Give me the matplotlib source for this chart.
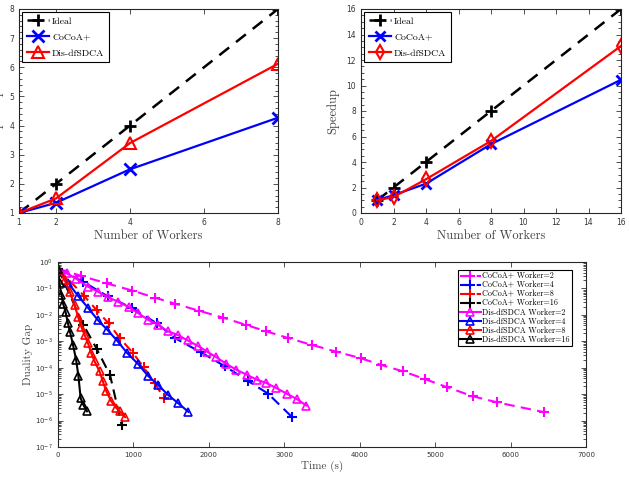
import numpy as np
import matplotlib
matplotlib.use("Agg")
import matplotlib.pyplot as plt
from matplotlib.ticker import AutoMinorLocator, LogLocator, NullFormatter

# ---------------- data ----------------
workers_a = [1, 2, 4, 8]
ideal_a = [1, 2, 4, 8]
cocoa_a = [1.0, 1.35, 2.5, 4.27]
dis_a = [1.0, 1.5, 3.4, 6.12]

workers_b = [1, 2, 4, 8, 16]
ideal_b = [1, 2, 4, 8, 16]
cocoa_b = [1.0, 1.4, 2.3, 5.4, 10.45]
dis_b = [1.0, 1.25, 2.65, 5.65, 13.1]

# bottom panel: time (s) and log10(duality gap)
t_cocoa2 = [0, 300, 648, 984, 1284, 1557, 1875, 2183, 2492, 2757, 3055, 3370, 3683,
            4013, 4278, 4577, 4864, 5151, 5499, 5820, 6442]
g_cocoa2 = [-0.25, -0.52, -0.81, -1.08, -1.35, -1.58, -1.85, -2.10, -2.38, -2.62, -2.88,
            -3.14, -3.39, -3.64, -3.89, -4.14, -4.43, -4.73, -5.08, -5.31, -5.68]
t_cocoa4 = [0, 330, 660, 985, 1310, 1550, 1890, 2210, 2513, 2785, 3100]
g_cocoa4 = [-0.25, -0.74, -1.30, -1.75, -2.32, -2.88, -3.41, -3.94, -4.49, -4.98, -5.86]
t_cocoa8 = [0, 345, 512, 670, 820, 990, 1135, 1280, 1405]
g_cocoa8 = [-0.25, -1.28, -1.82, -2.32, -2.88, -3.43, -3.98, -4.58, -5.14]
t_cocoa16 = [0, 335, 512, 690, 842]
g_cocoa16 = [-0.25, -2.37, -3.28, -4.28, -6.15]

t_dis2 = [0, 115, 245, 395, 530, 660, 800, 945, 1060, 1190, 1322, 1455, 1588, 1720, 1852,
          1975, 2098, 2228, 2366, 2500, 2632, 2757, 2895, 3030, 3162, 3294]
g_dis2 = [-0.25, -0.43, -0.64, -0.93, -1.12, -1.34, -1.50, -1.72, -1.93, -2.18, -2.37, -2.62,
          -2.76, -2.97, -3.17, -3.39, -3.60, -3.85, -4.08, -4.26, -4.45, -4.57, -4.77, -4.98,
          -5.18, -5.43]
t_dis4 = [0, 132, 265, 397, 529, 655, 785, 915, 1059, 1191, 1323, 1455, 1588, 1729]
g_dis4 = [-0.25, -0.78, -1.28, -1.73, -2.20, -2.57, -2.98, -3.44, -3.85, -4.30, -4.64, -5.02,
          -5.33, -5.67]
t_dis8 = [0, 89, 155, 221, 265, 309, 353, 397, 441, 485, 551, 595, 640, 706, 772, 816, 890]
g_dis8 = [-0.25, -0.69, -1.13, -1.63, -2.07, -2.45, -2.76, -3.07, -3.45, -3.76, -4.14, -4.52,
          -4.89, -5.27, -5.52, -5.65, -5.87]
t_dis16 = [0, 20, 45, 70, 100, 130, 160, 200, 240, 270, 300, 335, 385]
g_dis16 = [-0.25, -0.80, -1.24, -1.60, -1.88, -2.30, -2.65, -3.15, -3.70, -4.30, -5.15, -5.40,
           -5.65]

serif = "cmr10"
tickc = "#333333"
labc = "#444444"
W, H = 629, 478

fig = plt.figure(figsize=(W / 100, H / 100), dpi=100)


def pos(l, t, r, b):
    return [l / W, 1 - b / H, (r - l) / W, (b - t) / H]


def style(ax):
    ax.tick_params(which="both", direction="in", top=True, right=True,
                   labelsize=5.5, colors=tickc, width=0.6)
    ax.tick_params(which="major", length=3.5)
    ax.tick_params(which="minor", length=2)
    for s in ax.spines.values():
        s.set_color("#262626")
        s.set_linewidth(0.8)


def top_legend(ax):
    leg = ax.legend(loc="upper left", prop={"family": serif, "size": 7}, fancybox=False,
                    edgecolor="k", framealpha=1, handlelength=2.3, borderaxespad=0.35,
                    labelspacing=0.75, borderpad=0.45, handletextpad=0.3)
    leg.get_frame().set_linewidth(0.8)


# ---------- top left ----------
ax1 = fig.add_axes(pos(19, 9, 278, 213))
ax1.plot(workers_a, ideal_a, color="k", ls=(0, (5, 3.5)), lw=1.8, marker="+", ms=9, mew=2,
         label="Ideal")
ax1.plot(workers_a, cocoa_a, color="b", lw=1.6, marker="x", ms=8, mew=2, label="CoCoA+")
ax1.plot(workers_a, dis_a, color="r", lw=1.6, marker="^", ms=9, mew=1.5, mfc="none",
         label="Dis-dfSDCA")
ax1.set_xlim(1, 8)
ax1.set_ylim(1, 8)
ax1.set_xticks([1, 2, 4, 6, 8])
ax1.set_yticks(range(1, 9))
ax1.yaxis.set_minor_locator(AutoMinorLocator(5))
style(ax1)
ax1.set_xlabel("Number of Workers", fontfamily=serif, fontsize=9, color=labc, labelpad=2)
ax1.set_ylabel("Speedup", fontfamily=serif, fontsize=9, color=labc)
ax1.yaxis.set_label_coords(-0.062, 0.5)
top_legend(ax1)

# ---------- top right ----------
ax2 = fig.add_axes(pos(361, 9, 621, 213))
ax2.plot(workers_b, ideal_b, color="k", ls=(0, (5, 3.5)), lw=1.8, marker="+", ms=9, mew=2,
         label="Ideal")
ax2.plot(workers_b, cocoa_b, color="b", lw=1.6, marker="x", ms=7, mew=2, label="CoCoA+")
ax2.plot(workers_b, dis_b, color="r", lw=1.6, marker="d", ms=7, mew=1.5, mfc="none",
         label="Dis-dfSDCA")
ax2.set_xlim(0, 16)
ax2.set_ylim(0, 16)
ax2.set_xticks(range(0, 17, 2))
ax2.set_yticks(range(0, 17, 2))
ax2.yaxis.set_minor_locator(AutoMinorLocator(4))
style(ax2)
ax2.set_xlabel("Number of Workers", fontfamily=serif, fontsize=9, color=labc, labelpad=2)
ax2.set_ylabel("Speedup", fontfamily=serif, fontsize=9, color=labc)
ax2.yaxis.set_label_coords(-0.085, 0.5)
top_legend(ax2)

# ---------- bottom ----------
ax3 = fig.add_axes(pos(58, 262, 586, 447))
dash = (0, (5, 3))
series = [
    (t_cocoa2, g_cocoa2, "#ff00ff", "CoCoA+ Worker=2", "cocoa"),
    (t_cocoa4, g_cocoa4, "#0000ff", "CoCoA+ Worker=4", "cocoa"),
    (t_cocoa8, g_cocoa8, "#ff0000", "CoCoA+ Worker=8", "cocoa"),
    (t_cocoa16, g_cocoa16, "#000000", "CoCoA+ Worker=16", "cocoa"),
    (t_dis2, g_dis2, "#ff00ff", "Dis-dfSDCA Worker=2", "dis"),
    (t_dis4, g_dis4, "#0000ff", "Dis-dfSDCA Worker=4", "dis"),
    (t_dis8, g_dis8, "#ff0000", "Dis-dfSDCA Worker=8", "dis"),
    (t_dis16, g_dis16, "#000000", "Dis-dfSDCA Worker=16", "dis"),
]
for t, g, c, lab, kind in series:
    vals = 10.0 ** np.array(g)
    if kind == "cocoa":
        ax3.plot(t, vals, color=c, ls=dash, lw=1.5, marker="+", ms=7.5, mew=1.5, label=lab)
    else:
        ax3.plot(t, vals, color=c, ls="-", lw=1.5, marker="^", ms=5.5, mew=1.2, mfc="none",
                 label=lab)
ax3.set_yscale("log")
ax3.set_xlim(0, 7000)
ax3.set_ylim(1e-7, 1)
ax3.set_xticks(range(0, 7001, 1000))
ax3.yaxis.set_major_locator(LogLocator(base=10, numticks=10))
ax3.yaxis.set_minor_locator(LogLocator(base=10, subs=np.arange(2, 10), numticks=20))
ax3.yaxis.set_minor_formatter(NullFormatter())
style(ax3)
ax3.tick_params(labelsize=5)
ax3.set_xlabel("Time (s)", fontfamily=serif, fontsize=8, color=labc, labelpad=2)
ax3.set_ylabel("Duality Gap", fontfamily=serif, fontsize=8, color=labc)
ax3.yaxis.set_label_coords(-0.048, 0.5)
leg = ax3.legend(loc="upper right", prop={"family": serif, "size": 5.8}, fancybox=False,
                 edgecolor="k", framealpha=1, handlelength=2.6, borderaxespad=0,
                 labelspacing=0.08, borderpad=0.25, handletextpad=0.2,
                 bbox_to_anchor=(1 - 14 / 528, 1 - 8 / 185))
leg.get_frame().set_linewidth(0.8)

fig.savefig("out.png", dpi=100)
